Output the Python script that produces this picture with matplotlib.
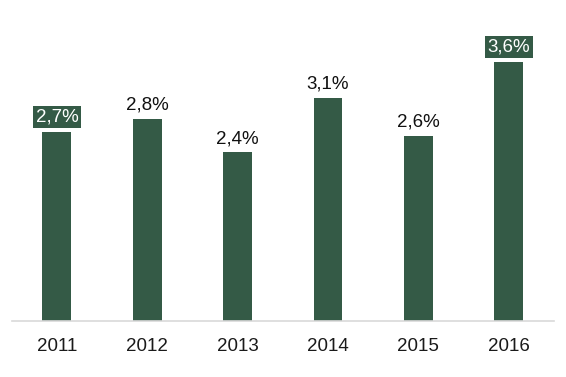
import matplotlib
matplotlib.use("Agg")
import matplotlib.pyplot as plt

years = ["2011", "2012", "2013", "2014", "2015", "2016"]
values = [2.65, 2.83, 2.36, 3.12, 2.59, 3.62]
labels = ["2,7%", "2,8%", "2,4%", "3,1%", "2,6%", "3,6%"]
highlight = [True, False, False, False, False, True]

color = "#345a46"
plt.rcParams['font.family'] = ['Liberation Sans', 'DejaVu Sans']

fig = plt.figure(figsize=(5.66, 3.77), dpi=100)
ax = fig.add_axes([0.0207, 0.1485, 0.958, 0.8315])
x = list(range(len(years)))
ax.bar(x, values, width=0.32, color=color)
ax.set_xlim(-0.5, len(years) - 0.5)
ax.set_ylim(0, 4.385)
ax.set_xticks(x)
ax.set_xticklabels(years, fontsize=13.5, color="#1a1a1a")
ax.tick_params(axis='x', length=0, pad=12)
ax.set_yticks([])
for s in ["top", "right", "left"]:
    ax.spines[s].set_visible(False)
ax.spines["bottom"].set_color("#d9d9d9")
ax.spines["bottom"].set_linewidth(1.2)

for xi, v, lab, h in zip(x, values, labels, highlight):
    if h:
        ax.annotate(lab, (xi, v), xytext=(0, 7.5), textcoords="offset points",
                    ha="center", va="baseline", fontsize=13.5, color="white",
                    bbox=dict(boxstyle="square,pad=0.13", fc=color, ec="none"))
    else:
        ax.annotate(lab, (xi, v), xytext=(0, 6.5), textcoords="offset points",
                    ha="center", va="baseline", fontsize=13.5, color="#111111")

fig.savefig("out.png", dpi=100)
